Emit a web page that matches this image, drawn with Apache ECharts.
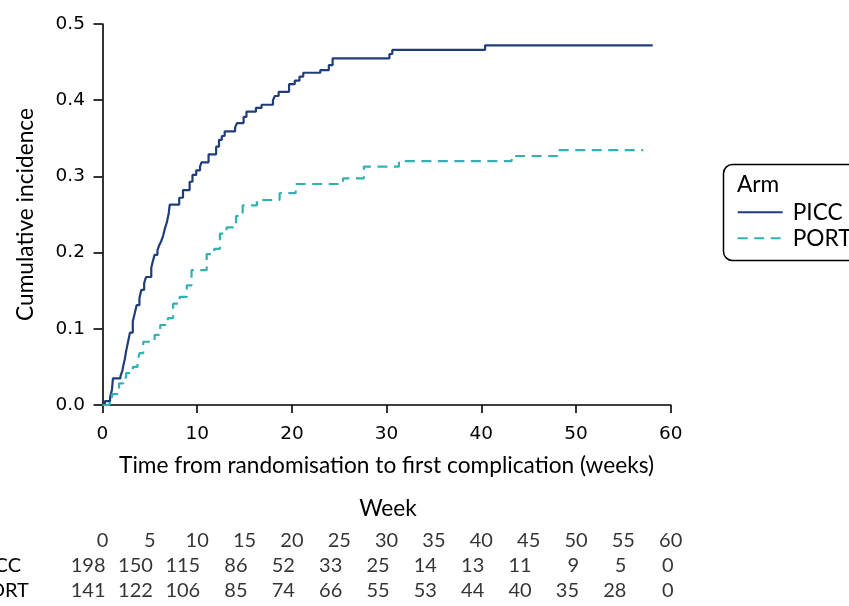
<!DOCTYPE html>
<html>
<head>
<meta charset="utf-8">
<script src="https://cdn.jsdelivr.net/npm/echarts@6/dist/echarts.min.js"></script>
<style>
html,body{margin:0;padding:0;background:#fff;}
#chart{width:849px;height:606px;}
</style>
</head>
<body>
<div id="chart"></div>
<script>
// ---- data ----
const piccTime = [0,0.25,0.8,1.0,1.1,1.9,2.1,2.2,2.35,2.5,2.7,2.9,3.2,3.4,3.6,3.9,4.1,4.4,4.6,5.15,5.3,5.5,5.8,6.0,6.2,6.4,6.6,6.8,7.0,7.1,8.1,8.5,9.2,9.5,9.9,10.3,10.45,11.2,12.0,12.3,12.6,12.9,14.0,14.2,14.9,15.2,16.2,16.8,18.0,18.2,18.6,19.7,20.3,20.8,21.2,23.0,23.9,24.3,30.3,30.6,40.4,58.1];
const piccInc  = [0,0.005,0.010,0.020,0.035,0.038,0.045,0.052,0.060,0.071,0.083,0.095,0.110,0.120,0.131,0.140,0.151,0.160,0.168,0.180,0.188,0.197,0.203,0.210,0.215,0.222,0.232,0.240,0.252,0.263,0.272,0.282,0.293,0.302,0.308,0.313,0.3185,0.329,0.339,0.348,0.353,0.359,0.364,0.370,0.378,0.385,0.390,0.394,0.400,0.4055,0.411,0.421,0.4256,0.431,0.436,0.4395,0.446,0.455,0.4606,0.466,0.472,0.472];
const portTime = [0,0.75,1.0,1.75,2.2,2.5,3.2,3.7,3.9,4.3,5.5,6.1,6.9,7.45,8.15,8.9,9.4,11.0,11.8,12.4,13.1,14.1,14.8,16.3,18.7,20.4,25.1,25.4,27.6,31.3,43.2,48.0,57.1];
const portInc  = [0,0.005,0.0144,0.0285,0.036,0.042,0.050,0.057,0.068,0.083,0.092,0.105,0.114,0.133,0.142,0.157,0.177,0.198,0.205,0.225,0.233,0.248,0.262,0.269,0.278,0.290,0.2935,0.2975,0.3127,0.320,0.3268,0.3346,0.3346];
const armNames = ['PICC','PORT'];
const weekTicks = [0,5,10,15,20,25,30,35,40,45,50,55,60];
const riskPICC = [198,150,115,86,52,33,25,14,13,11,9,5,0];
const riskPORT = [141,122,106,85,74,66,55,53,44,40,35,28,0];

const cPICC = '#1f3d7a';
const cPORT = '#31b1b5';
const lato = 'Lato, "Noto Sans", sans-serif';
const tickFont = '"DejaVu Sans", sans-serif';

const zip = (a,b) => a.map((t,i)=>[t,b[i]]);

const chart = echarts.init(document.getElementById('chart'), null, {renderer:'canvas'});
const gridL = 102.5, gridR = 849-670.7;

const option = {
  animation:false,
  backgroundColor:'#fff',
  grid:[
    {left:gridL, right:gridR, top:24, bottom:201},
    {left:gridL, right:gridR, top:528.5, height:75}
  ],
  xAxis:[
    {type:'value', gridIndex:0, min:0, max:60, interval:10, offset:3,
     axisLine:{show:true, lineStyle:{color:'#000', width:1.6}},
     axisTick:{show:true, length:8, lineStyle:{color:'#000', width:1.6}},
     axisLabel:{color:'#000', fontFamily:tickFont, fontSize:18.5, margin:17},
     splitLine:{show:false},
     name:'Time from randomisation to first complication (weeks)',
     nameLocation:'middle', nameGap:46.5,
     nameTextStyle:{fontFamily:lato, fontSize:22.7, color:'#000'}},
    {type:'value', gridIndex:1, min:0, max:60, show:false}
  ],
  yAxis:[
    {type:'value', gridIndex:0, min:0, max:0.5, interval:0.1, offset:2.5,
     axisLine:{show:true, lineStyle:{color:'#000', width:1.6}},
     axisTick:{show:true, length:9, lineStyle:{color:'#000', width:1.6}},
     axisLabel:{color:'#000', fontFamily:tickFont, fontSize:18.5, margin:15,
       formatter:v=>v.toFixed(1)},
     splitLine:{show:false},
     name:'Cumulative incidence', nameLocation:'middle', nameGap:62.5,
     nameTextStyle:{fontFamily:lato, fontSize:22.7, color:'#000'}},
    {type:'value', gridIndex:1, min:-0.5, max:2.5, inverse:true, show:false}
  ],
  legend:{
    data:armNames, orient:'vertical', left:736.7, top:200.3, padding:0,
    itemWidth:45, itemHeight:24, itemGap:2,
    itemStyle:{opacity:0},
    textStyle:{fontFamily:lato, fontSize:22.7, color:'#000', lineHeight:24, padding:[0,0,0,5]},
    selectedMode:false
  },
  graphic:[
    {type:'rect', shape:{x:723.5, y:164.5, width:160, height:96, r:9},
     style:{fill:'none', stroke:'#000', lineWidth:1.5}},
    {type:'text', x:737, y:184.5, style:{text:'Arm', fontFamily:lato, fontSize:22.7, fill:'#000', verticalAlign:'middle'}},
    {type:'text', x:388, y:509, style:{text:'Week', fontFamily:lato, fontSize:22.7, fill:'#000', align:'center', verticalAlign:'middle'}},
    {type:'text', x:-23, y:566, style:{text:armNames[0], fontFamily:lato, fontSize:20, fill:'#000', verticalAlign:'middle'}},
    {type:'text', x:-23, y:591, style:{text:armNames[1], fontFamily:lato, fontSize:20, fill:'#000', verticalAlign:'middle'}}
  ],
  series:[
    {name:armNames[0], type:'line', step:'end', symbol:'none', xAxisIndex:0, yAxisIndex:0,
     data:zip(piccTime,piccInc), lineStyle:{color:cPICC, width:2.2}, itemStyle:{color:cPICC}},
    {name:armNames[1], type:'line', step:'end', symbol:'none', xAxisIndex:0, yAxisIndex:0,
     data:zip(portTime,portInc), lineStyle:{color:cPORT, width:2.2, type:[10,6.5]}, itemStyle:{color:cPORT}},
    {type:'scatter', xAxisIndex:1, yAxisIndex:1, symbolSize:1, itemStyle:{color:'rgba(0,0,0,0)'},
     data:weekTicks.map(w=>[w,0,String(w)]),
     label:{show:true, position:'inside', formatter:p=>p.value[2], fontFamily:lato, fontSize:20, color:'#000', align:'center'}},
    {type:'scatter', xAxisIndex:1, yAxisIndex:1, symbolSize:1, itemStyle:{color:'rgba(0,0,0,0)'},
     data:weekTicks.map((w,i)=>[w,1,String(riskPICC[i])]),
     label:{show:true, position:'inside', formatter:p=>p.value[2], fontFamily:lato, fontSize:20, color:'#000', align:'right', offset:[3,0]}},
    {type:'scatter', xAxisIndex:1, yAxisIndex:1, symbolSize:1, itemStyle:{color:'rgba(0,0,0,0)'},
     data:weekTicks.map((w,i)=>[w,2,String(riskPORT[i])]),
     label:{show:true, position:'inside', formatter:p=>p.value[2], fontFamily:lato, fontSize:20, color:'#000', align:'right', offset:[3,0]}}
  ]
};
chart.setOption(option);
</script>
</body>
</html>
